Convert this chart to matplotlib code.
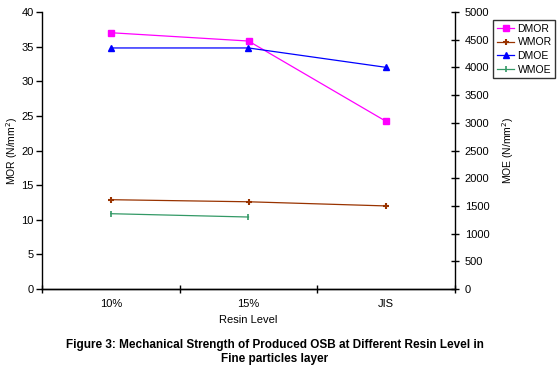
import numpy as np
import matplotlib.pyplot as plt

plt.rcParams['font.family'] = ['Liberation Sans', 'DejaVu Sans']

levels = ['10%', '15%', 'JIS']
dmor = [37.0, 35.8, 24.2]
wmor = [12.9, 12.6, 12.0]
dmoe = [4350, 4350, 4000]
wmoe = [1360, 1300]

x = np.arange(len(levels))

fig = plt.figure(figsize=(5.6, 3.73), dpi=100)
ax = fig.add_axes([0.075, 0.225, 0.7375, 0.743])
ax2 = ax.twinx()

l1, = ax.plot(x, dmor, color='#FF00FF', marker='s', ms=4, lw=0.9, label='DMOR')
l2, = ax.plot(x, wmor, color='#993300', marker='+', ms=5, mew=1.5, lw=0.9, label='WMOR')
l3, = ax2.plot(x, dmoe, color='#0000FF', marker='^', ms=4, lw=0.9, label='DMOE')
l4, = ax2.plot(x[:len(wmoe)], wmoe, color='#339966', marker='|', ms=4, mew=1.2, lw=0.9, label='WMOE')

ax.set_xlim(-0.5, 2.5)
ax.set_ylim(0, 40)
ax.set_yticks(np.arange(0, 41, 5))
ax2.set_ylim(0, 5000)
ax2.set_yticks(np.arange(0, 5001, 500))

ax.set_xticks(x)
ax.set_xticklabels(levels)
ax.set_xticks([-0.5, 0.5, 1.5, 2.5], minor=True)
ax.tick_params(axis='x', which='major', length=0, pad=7, labelsize=8)
ax.tick_params(axis='x', which='minor', length=6, direction='inout', width=1)
ax.tick_params(axis='y', length=4, direction='out', width=1, labelsize=8, pad=2)
ax2.tick_params(axis='y', length=6, direction='inout', width=1, labelsize=8, pad=4)

for a in (ax, ax2):
    a.spines['top'].set_visible(False)
    for s in a.spines.values():
        s.set_linewidth(1)
ax.spines['right'].set_visible(False)
ax2.spines['left'].set_visible(False)

ax.set_ylabel('MOR (N/mm$^2$)', fontsize=7.5, va='center')
ax.yaxis.set_label_coords(-0.072, 0.5)
ax2.set_ylabel('MOE (N/mm$^2$)', fontsize=7.5, va='center', rotation=90)
ax2.yaxis.set_label_coords(1.128, 0.5)
ax.set_xlabel('Resin Level', fontsize=8, va='center')
ax.xaxis.set_label_coords(0.5, -0.112)

leg = fig.legend(handles=[l1, l2, l3, l4], loc='upper left',
                 bbox_to_anchor=(493 / 560, 1 - 20 / 373), fontsize=7.5,
                 frameon=True, fancybox=False, edgecolor='black',
                 handlelength=1.7, handletextpad=0.3, borderpad=0.35,
                 labelspacing=0.35, borderaxespad=0)
leg.get_frame().set_linewidth(1)

fig.text(0.491, 1 - 352 / 373,
         'Figure 3: Mechanical Strength of Produced OSB at Different Resin Level in\nFine particles layer',
         ha='center', va='center', fontsize=8.5, fontweight='bold', linespacing=1.2)

fig.savefig('out.png', dpi=100)
